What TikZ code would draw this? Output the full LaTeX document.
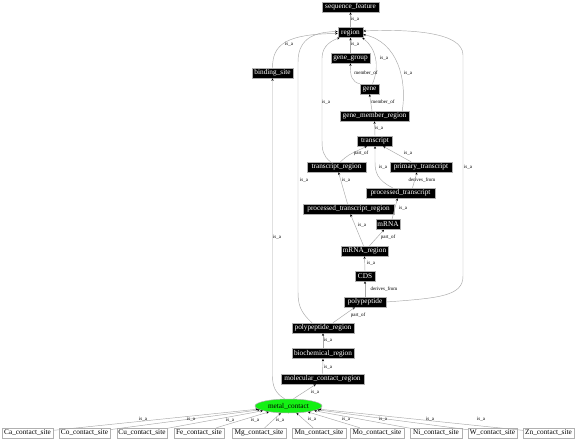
\documentclass[tikz,border=0pt]{standalone}
\usepackage{fontspec}
\setmainfont{Liberation Serif}
\usetikzlibrary{arrows.meta,shapes.geometric}
\definecolor{edgegray}{HTML}{A8A8A8}
\definecolor{bordergray}{HTML}{B0B0B0}
\definecolor{metalgreen}{HTML}{14F014}
\tikzset{
  term/.style={draw=bordergray, line width=0.5pt, fill=black, text=white, font=\fontsize{7.3}{7.5}\selectfont,
    inner sep=0pt, minimum height=10pt, rectangle},
  leaf/.style={draw=bordergray, line width=0.5pt, fill=white, text=black, font=\fontsize{7.3}{7.5}\selectfont,
    inner sep=0pt, minimum height=10pt, rectangle},
  e/.style={draw=edgegray, line width=0.45pt, -{Stealth[length=2.6pt,width=2.2pt,color=black]}},
  lbl/.style={font=\fontsize{5}{5}\selectfont, inner sep=0pt, text=black}
}
\begin{document}
\begin{tikzpicture}[x=1pt,y=-1pt]
\useasboundingbox[fill=white] (0,0) rectangle (576,439);
% nodes
\node[term, minimum width=57] (sf) at (350.5,7) {sequence\_feature};
\node[term, minimum width=25] (region) at (350.5,32.5) {region};
\node[term, minimum width=39] (gg) at (350.5,58) {gene\_group};
\node[term, minimum width=41] (bs) at (272.5,73) {binding\_site};
\node[term, minimum width=19] (gene) at (369.5,89) {gene};
\node[term, minimum width=69] (gmr) at (374.5,116) {gene\_member\_region};
\node[term, minimum width=35] (tsc) at (375,141) {transcript};
\node[term, minimum width=59] (tr) at (336.5,167) {transcript\_region};
\node[term, minimum width=62] (pt) at (421,167) {primary\_transcript};
\node[term, minimum width=69] (proct) at (400.5,193) {processed\_transcript};
\node[term, minimum width=91] (ptr) at (348.5,209) {processed\_transcript\_region};
\node[term, minimum width=24] (mrna) at (388,224.5) {mRNA};
\node[term, minimum width=47] (mr) at (364.5,251) {mRNA\_region};
\node[term, minimum width=20] (cds) at (365,276) {CDS};
\node[term, minimum width=42] (poly) at (365,302) {polypeptide};
\node[term, minimum width=62] (pr) at (323,328) {polypeptide\_region};
\node[term, minimum width=62] (br) at (323,353.5) {biochemical\_region};
\node[term, minimum width=83] (mcr) at (322.5,379) {molecular\_contact\_region};
\node[ellipse, draw=bordergray, line width=0.5pt, fill=metalgreen, inner sep=0pt,
  minimum width=67, minimum height=14, font=\fontsize{7.3}{7.5}\selectfont] (metal) at (288.5,406) {metal\_contact};
\node[leaf, minimum width=51] (ca) at (27.5,433) {Ca\_contact\_site};
\node[leaf, minimum width=51] (co) at (84.5,433) {Co\_contact\_site};
\node[leaf, minimum width=50] (cu) at (142,433) {Cu\_contact\_site};
\node[leaf, minimum width=50] (fe) at (199,433) {Fe\_contact\_site};
\node[leaf, minimum width=54] (mg) at (259,433) {Mg\_contact\_site};
\node[leaf, minimum width=54] (mn) at (319,433) {Mn\_contact\_site};
\node[leaf, minimum width=54] (mo) at (377,433) {Mo\_contact\_site};
\node[leaf, minimum width=52] (ni) at (436,433) {Ni\_contact\_site};
\node[leaf, minimum width=49] (w) at (492.5,433) {W\_contact\_site};
\node[leaf, minimum width=51] (zn) at (548.5,433) {Zn\_contact\_site};
% straight edges
\draw[e] (region.north) -- (sf.south);
\draw[e] (gg.north) -- (region.south);
\draw[e] ([xshift=-2.5pt]gmr.north) -- (gene.south);
\draw[e] (tsc.north) -- (gmr.south);
\draw[e] ([xshift=4pt]tr.north) .. controls (348,155) .. ([xshift=-8pt]tsc.south);
\draw[e] ([xshift=-10pt]pt.north) -- ([xshift=8pt]tsc.south);
\draw[e] ([xshift=12pt]proct.north) -- ([xshift=-4pt]pt.south);
\draw[e] ([xshift=-1pt]ptr.north) -- ([xshift=2pt]tr.south);
\draw[e] ([xshift=4pt]mrna.north) -- ([xshift=-3pt]proct.south);
\draw[e] ([xshift=-1pt]mr.north) -- ([xshift=2pt]ptr.south);
\draw[e] ([xshift=5pt]mr.north) -- ([xshift=-4pt]mrna.south);
\draw[e] (cds.north) -- (mr.south);
\draw[e] (poly.north) -- (cds.south);
\draw[e] ([xshift=10pt]pr.north) -- ([xshift=-10pt]poly.south);
\draw[e] (br.north) -- (pr.south);
\draw[e] (mcr.north) -- (br.south);
\draw[e] ([xshift=5pt]metal.north) -- ([xshift=-6.5pt]mcr.south);
% curved edges
\draw[e] (bs.north) .. controls (272.5,45) and (285,34) .. ([yshift=-1pt]region.west);
\draw[e] ([xshift=-11pt]pr.north) .. controls (300,312) and (298,304) .. (298,292) -- (298,62) .. controls (298,36) and (318,32) .. ([yshift=1pt]region.west);
\draw[e] ([xshift=-6pt]tr.north) .. controls (323,156) and (322,150) .. (322,140) -- (322,58) .. controls (322,45) and (333,40) .. ([xshift=2pt]region.south west);
\draw[e] (gene.north west) .. controls (352,82) and (350,76) .. (gg.south);
\draw[e] ([xshift=3pt]gene.north) .. controls (380,66) and (376,48) .. ([xshift=-1pt]region.south east);
\draw[e] ([xshift=-7pt]gmr.north east) .. controls (407,80) and (398,42) .. ([yshift=-2pt]region.east);
\draw[e] (poly.east) .. controls (440,298) and (463,296) .. (463,276) -- (463,55) .. controls (463,32) and (410,29) .. ([yshift=1.5pt]region.east);
\draw[e] ([xshift=-8pt]proct.north) .. controls (377,180) and (375,172) .. (375,162) -- (tsc.south);
\draw[e] ([xshift=-4pt]metal.north) .. controls (275,393) and (272.5,386) .. (272.5,376) -- (bs.south);
% bottom edges
\foreach \n in {ca,co,cu,fe,mg,mn,mo,ni,w,zn} { \draw[e] (\n) -- (metal); }
% labels
\node[lbl] (l1) at (355,19) {is\_a};
\node[lbl] (l2) at (355,44) {is\_a};
\node[lbl] (l3) at (289,44) {is\_a};
\node[lbl] (l4) at (366,73) {member\_of};
\node[lbl] (l5) at (384,58) {is\_a};
\node[lbl] (l6) at (408,73) {is\_a};
\node[lbl] (l7) at (383,102) {member\_of};
\node[lbl] (l8) at (326,102) {is\_a};
\node[lbl] (l9) at (379,128) {is\_a};
\node[lbl] (l10) at (361,153) {part\_of};
\node[lbl] (l11) at (408,153) {is\_a};
\node[lbl] (l12) at (383,167) {is\_a};
\node[lbl] (l13) at (422,180) {derives\_from};
\node[lbl] (l14) at (346,180) {is\_a};
\node[lbl] (l15) at (304,180) {is\_a};
\node[lbl] (l16) at (468,167) {is\_a};
\node[lbl] (l17) at (403,208) {is\_a};
\node[lbl] (l18) at (362,225) {is\_a};
\node[lbl] (l19) at (388,237) {part\_of};
\node[lbl] (l20) at (277,237) {is\_a};
\node[lbl] (l21) at (371,263) {is\_a};
\node[lbl] (l22) at (384,289) {derives\_from};
\node[lbl] (l23) at (358,315) {part\_of};
\node[lbl] (l24) at (328,340) {is\_a};
\node[lbl] (l25) at (328,367) {is\_a};
\node[lbl] (l26) at (315,392) {is\_a};
\node[lbl] (b1) at (143,419) {is\_a};
\node[lbl] (b2) at (191,419) {is\_a};
\node[lbl] (b3) at (230,420) {is\_a};
\node[lbl] (b4) at (255,420) {is\_a};
\node[lbl] (b5) at (280,420) {is\_a};
\node[lbl] (b6) at (312,419) {is\_a};
\node[lbl] (b7) at (346,419) {is\_a};
\node[lbl] (b8) at (383,419) {is\_a};
\node[lbl] (b9) at (430,419) {is\_a};
\node[lbl] (b10) at (481,419) {is\_a};
\end{tikzpicture}
\end{document}
